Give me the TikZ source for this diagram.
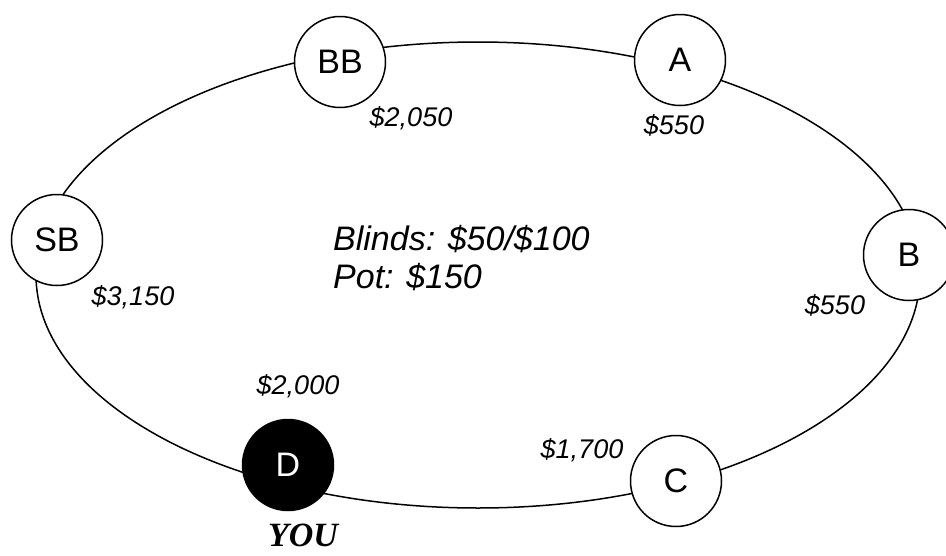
\documentclass[tikz,border=0pt]{standalone}
\usepackage{fontspec}
\setmainfont{Liberation Sans}
\newfontfamily\youfont{Liberation Serif}
\begin{document}
\begin{tikzpicture}[x=1pt,y=-1pt,
  seat/.style={circle,draw,line width=1.5pt,fill=white,minimum size=91pt,inner sep=0pt,
    font=\fontsize{34}{38}\selectfont},
  chips/.style={inner sep=0pt,font=\fontsize{27}{30}\selectfont\itshape},
  info/.style={inner sep=0pt,anchor=base west,font=\fontsize{34}{38}\selectfont\itshape},
  tableline/.style={line width=1.5pt}]
\useasboundingbox (0,0) rectangle (946,555);
\draw[tableline] (478,275) ellipse [x radius=442pt, y radius=233pt];
\node[seat] (BB) at (340,62) {BB};
\node[seat] (A) at (680,60) {A};
\node[seat] (SB) at (57,240) {SB};
\node[seat] (B) at (909,255) {B};
\node[seat,fill=black,text=white] (D) at (288,465) {D};
\node[seat] (C) at (676,481) {C};
\node[chips] (bbchips) at (411,118) {\$2,050};
\node[chips] (achips) at (674,125) {\$550};
\node[chips] (sbchips) at (133,297) {\$3,150};
\node[chips] (bchips) at (835,305) {\$550};
\node[chips] (dchips) at (298,386) {\$2,000};
\node[chips] (cchips) at (582,450) {\$1,700};
\node[inner sep=0pt,font=\youfont\bfseries\itshape\fontsize{34}{38}\selectfont] (you) at (303,535) {YOU};
\node[info] (blinds) at (333,250) {Blinds: \$50/\$100};
\node[info] (pot) at (333,288) {Pot: \$150};
\end{tikzpicture}
\end{document}
